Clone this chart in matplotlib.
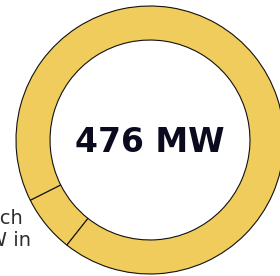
import matplotlib
matplotlib.use("Agg")
import matplotlib.pyplot as plt

# capacity split (MW)
segments = ["Other", "Small"]
values = [443, 33]
total_label = "476 MW"
side_lines = ["which", "MW in"]

ring_color = "#f0cc5c"

fig = plt.figure(figsize=(2.80, 2.76), dpi=100)
fig.patch.set_facecolor("white")

# ring centre sits at (150, 140) px, outer radius 134 px
W, H = 280, 276
cx, cy, r = 150, 140, 134
ax = fig.add_axes([(cx - r) / W, (H - cy - r) / H, 2 * r / W, 2 * r / H])
ax.pie(values[::-1], radius=1, startangle=206.7, counterclock=True,
       colors=[ring_color, ring_color],
       wedgeprops=dict(width=0.254, edgecolor="#111111", linewidth=0.8))
ax.set_xlim(-1, 1)
ax.set_ylim(-1, 1)
ax.set_aspect("equal")
ax.axis("off")

ax.text(0, (cy - 152) / r, total_label, ha="center", va="baseline",
        fontsize=23.8, fontweight="bold", color="#0b0b1f")

# label cut off at the left border (as in the source crop)
fig.text(23 / W, (H - 224) / H, side_lines[0], ha="right", va="baseline",
         fontsize=14, color="#2e2e2e")
fig.text(31 / W, (H - 246) / H, side_lines[1], ha="right", va="baseline",
         fontsize=14, color="#2e2e2e")

fig.savefig("out.png", dpi=100)
